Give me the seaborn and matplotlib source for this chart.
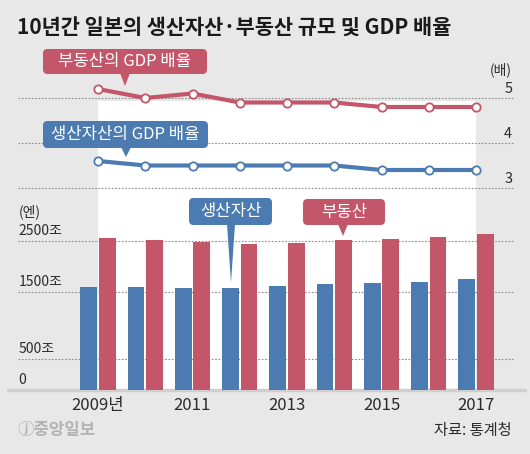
"""
Japan: produced assets / real estate size and GDP multiple over 10 years.
Recreates the JoongAng Ilbo style infographic with seaborn + matplotlib.
"""

import matplotlib
matplotlib.use("Agg")  # headless rendering
import matplotlib.pyplot as plt
import seaborn as sns
import pandas as pd
import numpy as np
from matplotlib.patches import FancyBboxPatch, Polygon, Rectangle

# ---- data -------------------------------------------------------------
years = [2009, 2010, 2011, 2012, 2013, 2014, 2015, 2016, 2017]
estate_ratio = [5.2, 5.0, 5.1, 4.9, 4.9, 4.9, 4.8, 4.8, 4.8]        # 부동산의 GDP 배율
produced_ratio = [3.6, 3.5, 3.5, 3.5, 3.5, 3.5, 3.4, 3.4, 3.4]      # 생산자산의 GDP 배율
produced_assets = [1600, 1590, 1580, 1565, 1615, 1655, 1680, 1700, 1745]  # 조 엔
real_estate = [2555, 2515, 2480, 2430, 2460, 2505, 2530, 2570, 2625]      # 조 엔

ratio_ticks = [3, 4, 5]
asset_ticks = [0, 500, 1500, 2500]
asset_tick_labels = ["0", "500조", "1500조", "2500조"]
year_tick_pos = [0, 2, 4, 6, 8]
year_labels = ["2009년", "2011", "2013", "2015", "2017"]

RED = "#c4566a"
BLUE = "#4b7bb0"
BG = "#e8e8e9"
GRID = "#8c8c8c"
TXT = "#2b2b2b"

sns.set_theme(style="white")
plt.rcParams["font.family"] = ["Noto Sans CJK KR", "DejaVu Sans"]

W, H = 530, 454
fig = plt.figure(figsize=(W / 100, H / 100), dpi=100, facecolor=BG)
px = fig.dpi_scale_trans  # inches -> use px / 100


def P(x, y):
    """pixel (top-left origin) -> inches for dpi_scale_trans"""
    return x / 100, (H - y) / 100


def axes_px(x0, y0, x1, y1):
    return fig.add_axes([x0 / W, 1 - y1 / H, (x1 - x0) / W, (y1 - y0) / H])


# white panel behind the data
fig.add_artist(Rectangle(P(98, 389.6), (476 - 98) / 100, (389.6 - 101) / 100,
                         transform=px, facecolor="white", edgecolor="none", zorder=-1))

# x mapping shared by both panels: 2009 at 98px, 2017 at 476px
step = (476 - 98) / 8
left_pad, right_pad = (98 - 18) / step, (515 - 476) / step

# ---- top: GDP multiples ------------------------------------------------
ax_top = axes_px(18, 80, 515, 195)
ax_top.set_facecolor("none")
for v in ratio_ticks:
    ax_top.axhline(v, color=GRID, lw=0.8, ls=(0, (1.5, 1.5)), zorder=1)
    ax_top.annotate(str(v), xy=(1, v), xycoords=ax_top.get_yaxis_transform(),
                    xytext=(-2, 1.5), textcoords="offset points",
                    ha="right", va="bottom", fontsize=10.5, color=TXT)
ax_top.annotate("(배)", xy=(1, 5), xycoords=ax_top.get_yaxis_transform(),
                xytext=(-2, 15), textcoords="offset points",
                ha="right", va="bottom", fontsize=10, color=TXT)

line_kw = dict(lw=3, marker="o", markersize=6, markerfacecolor="white",
               markeredgewidth=1.3, zorder=3)
sns.lineplot(x=years, y=estate_ratio, color=RED, markeredgecolor=RED, ax=ax_top, **line_kw)
sns.lineplot(x=years, y=produced_ratio, color=BLUE, markeredgecolor=BLUE, ax=ax_top, **line_kw)
ax_top.set_xlim(years[0] - left_pad, years[-1] + right_pad)
ax_top.set_ylim(3 - 7 / 45, 5 + 18 / 45)
ax_top.axis("off")

# ---- bottom: asset size (broken/uneven scale as in the original) --------
ax_bar = axes_px(18, 195, 515, 389.6)
ax_bar.set_facecolor("none")

df = pd.DataFrame({
    "year": years * 2,
    "kind": ["생산자산"] * len(years) + ["부동산"] * len(years),
    "value": produced_assets + real_estate,
})
sns.barplot(data=df, x="year", y="value", hue="kind", palette=[BLUE, RED],
            width=0.78, gap=0.1, saturation=1, linewidth=0, legend=False,
            ax=ax_bar, zorder=3)

# uneven vertical scale read from the graphic
scale_vals = [0, 500, 1500, 2500, 5000]
scale_px = [0, 30.4, 97.8, 149.1, 149.1 + 2500 * 0.0513]
ax_bar.set_yscale("function", functions=(lambda v: np.interp(v, scale_vals, scale_px),
                                         lambda p: np.interp(p, scale_px, scale_vals)))
ax_bar.set_ylim(0, np.interp(194.6, scale_px, scale_vals))
ax_bar.set_xlim(-left_pad, len(years) - 1 + right_pad)

for v, lab in zip(asset_ticks, asset_tick_labels):
    if v > 0:
        ax_bar.axhline(v, color=GRID, lw=0.8, ls=(0, (1.5, 1.5)), zorder=1)
    ax_bar.annotate(lab, xy=(0, v), xycoords=ax_bar.get_yaxis_transform(),
                    xytext=(0.5, 2), textcoords="offset points",
                    ha="left", va="bottom", fontsize=10, color=TXT)
ax_bar.annotate("(엔)", xy=(0, 2500), xycoords=ax_bar.get_yaxis_transform(),
                xytext=(0.5, 15), textcoords="offset points",
                ha="left", va="bottom", fontsize=10, color=TXT)
ax_bar.axhline(0, xmin=-0.02, xmax=1.02, color="#cfcfcf", lw=2.5, zorder=2, clip_on=False)

ax_bar.set_xticks(year_tick_pos, year_labels)
ax_bar.set_yticks([])
ax_bar.tick_params(axis="x", length=0, pad=5, labelsize=12, labelcolor=TXT)
ax_bar.set_xlabel("")
ax_bar.set_ylabel("")
for s in ax_bar.spines.values():
    s.set_visible(False)


# ---- callouts ----------------------------------------------------------
def callout(text, color, box, tip, base=(None, 10), fontsize=12):
    x0, y0, x1, y1 = box
    bx = base[0] if base[0] is not None else tip[0]
    bw = base[1]
    fig.add_artist(FancyBboxPatch(P(x0, y1), (x1 - x0) / 100, (y1 - y0) / 100,
                                  boxstyle="round,pad=0,rounding_size=0.045",
                                  transform=px, fc=color, ec="none", zorder=5))
    fig.add_artist(Polygon([P(bx - bw / 2, y1 - 1), P(bx + bw / 2, y1 - 1), P(*tip)],
                           closed=True, transform=px, fc=color, ec="none", zorder=5))
    fig.text(*P((x0 + x1) / 2, (y0 + y1) / 2), text, transform=px, ha="center",
             va="center", color="white", fontsize=fontsize, zorder=6)


callout("부동산의 GDP 배율", RED, (43, 49, 207, 74), (125, 86))
callout("생산자산의 GDP 배율", BLUE, (43, 121, 208, 148), (126, 157))
callout("생산자산", BLUE, (189, 198, 272, 225), (231, 283), base=(231, 8))
callout("부동산", RED, (303, 199, 385, 225), (343, 236))

# ---- title / footer ----------------------------------------------------
fig.text(*P(17, 27), "10년간 일본의 생산자산·부동산 규모 및 GDP 배율", transform=px,
         ha="left", va="center", fontsize=15, fontweight="bold", color="#1a1a1a")
fig.text(*P(18, 430), "ⓙ중앙일보", transform=px, ha="left", va="center",
         fontsize=12, fontweight="bold", color="#b3b3b3")
fig.text(*P(512, 430), "자료: 통계청", transform=px, ha="right", va="center",
         fontsize=11, color=TXT)

fig.savefig("out.png", dpi=100, facecolor=BG)
plt.close(fig)
